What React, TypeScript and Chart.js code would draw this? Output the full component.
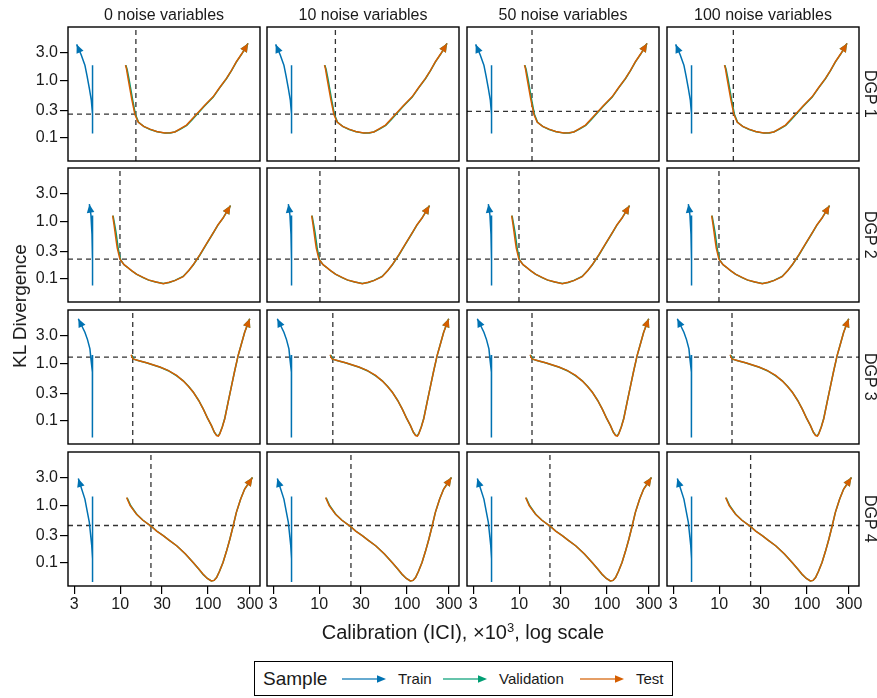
import React, { useEffect, useRef } from "react";
import { Chart, registerables } from "chart.js";

Chart.register(...registerables);

// ---------------- data ----------------
const COLUMN_LABELS = ["0 noise variables", "10 noise variables", "50 noise variables", "100 noise variables"];
const ROW_LABELS = ["DGP 1", "DGP 2", "DGP 3", "DGP 4"];
const SERIES_NAMES = ["Train", "Validation", "Test"];

const X_TICKS = [3, 10, 30, 100, 300];
const X_TICK_LABELS = ["3", "10", "30", "100", "300"];
const Y_TICKS = [3, 1, 0.3, 0.1];
const Y_TICK_LABELS = ["3.0", "1.0", "0.3", "0.1"];
const X_RANGE = [2.55, 390];
const Y_RANGE = [0.04, 8.5];

// reference lines (per row, per column)
const VLINE_DGP1 = [15.1, 15.3, 14.0, 14.5];
const VLINE_DGP2 = [9.95, 10.2, 9.95, 9.95];
const VLINE_DGP3 = [13.9, 14.3, 14.0, 14.0];
const VLINE_DGP4 = [22.4, 23.0, 22.4, 22.8];
const HLINE_DGP1 = [0.26, 0.26, 0.29, 0.27];
const HLINE_DGP2 = [0.222, 0.222, 0.222, 0.222];
const HLINE_DGP3 = [1.29, 1.29, 1.29, 1.29];
const HLINE_DGP4 = [0.45, 0.45, 0.45, 0.45];

// [calibration x1000, KL divergence]
const TRAIN_DGP1 = [[4.85, 1.85], [4.85, 0.12], [4.85, 0.26], [4.7, 0.45], [4.46, 0.73], [4.2, 1.2], [3.97, 1.85], [3.6, 2.8], [3.2, 4.24]];
const VALID_DGP1 = [[11.6, 1.85], [12.0, 1.55], [12.6, 1.07], [13.2, 0.71], [13.8, 0.48], [14.9, 0.26], [16.2, 0.188], [18.7, 0.158], [22, 0.141], [26.4, 0.129], [32.3, 0.122], [37.4, 0.123], [42.4, 0.129], [48.6, 0.143], [57.2, 0.166], [65.6, 0.206], [74.6, 0.256], [90.6, 0.356], [114.6, 0.515], [135.5, 0.745], [162.5, 1.085], [185.5, 1.495], [210.5, 2.11], [245.5, 3.0], [285, 4.4]];
const TEST_DGP1 = [[11.5, 1.85], [11.8, 1.6], [12.3, 1.09], [12.9, 0.72], [13.5, 0.49], [14.7, 0.26], [16.0, 0.19], [18.5, 0.16], [21.8, 0.143], [26, 0.13], [32.3, 0.123], [37, 0.124], [41.9, 0.128], [48, 0.145], [56.9, 0.168], [65, 0.21], [73.9, 0.26], [90, 0.36], [114, 0.52], [135, 0.75], [162, 1.09], [185, 1.5], [210, 2.12], [245, 3.0], [285, 4.4]];

const TRAIN_DGP2 = [[4.85, 1.27], [4.85, 0.077], [4.85, 0.2], [4.78, 0.6], [4.65, 1.3], [4.46, 2.0]];
const VALID_DGP2 = [[8.3, 1.26], [8.65, 0.89], [8.95, 0.66], [9.25, 0.46], [9.5, 0.34], [10.1, 0.218], [11.1, 0.177], [12.0, 0.162], [13.7, 0.137], [15.5, 0.121], [18.2, 0.106], [21.1, 0.096], [25.3, 0.089], [31, 0.084], [36.3, 0.087], [42, 0.095], [52, 0.111], [60, 0.139], [67.8, 0.176], [80.8, 0.262], [95.2, 0.398], [114, 0.625], [130, 0.875], [148, 1.145], [180, 1.89]];
const TEST_DGP2 = [[8.22, 1.27], [8.5, 0.9], [8.73, 0.67], [9.0, 0.47], [9.27, 0.345], [9.95, 0.222], [11.0, 0.18], [11.84, 0.165], [13.5, 0.14], [15.3, 0.122], [18, 0.108], [20.9, 0.097], [25, 0.09], [30.9, 0.083], [36, 0.088], [41.9, 0.094], [52.1, 0.11], [60, 0.14], [67.7, 0.177], [80.6, 0.264], [95, 0.4], [114, 0.63], [130, 0.88], [148, 1.15], [180, 1.89]];

const TRAIN_DGP3 = [[4.85, 1.4], [4.85, 0.052], [4.85, 0.3], [4.8, 0.71], [4.65, 1.2], [4.53, 1.8], [4.25, 2.6], [3.97, 3.5], [3.34, 6.0]];
const VALID_DGP3 = [[13.6, 1.4], [14.3, 1.19], [16.3, 1.12], [20.3, 1.02], [24.3, 0.93], [28.6, 0.86], [35.3, 0.75], [44, 0.61], [52.3, 0.5], [60.3, 0.4], [68, 0.318], [78.3, 0.228], [88.3, 0.162], [98.3, 0.114], [109, 0.084], [118, 0.064], [125, 0.057], [131, 0.056], [136, 0.061], [145, 0.079], [155, 0.112], [170, 0.222], [185, 0.41], [200, 0.72], [220, 1.37], [240, 2.2], [261, 3.5], [298, 6.0]];
const TEST_DGP3 = [[13.3, 1.42], [14, 1.2], [16, 1.13], [20, 1.03], [24, 0.94], [28.3, 0.87], [35, 0.76], [43.9, 0.62], [52, 0.5], [60, 0.4], [67.7, 0.32], [78, 0.23], [88, 0.163], [98, 0.115], [109, 0.084], [118, 0.064], [125, 0.056], [131, 0.055], [136, 0.06], [145, 0.078], [155, 0.11], [170, 0.22], [185, 0.41], [200, 0.72], [220, 1.38], [240, 2.2], [261, 3.5], [298, 6.0]];

const TRAIN_DGP4 = [[4.85, 1.43], [4.85, 0.047], [4.85, 0.118], [4.75, 0.2], [4.46, 0.51], [3.97, 1.29], [3.34, 2.95]];
const VALID_DGP4 = [[12.0, 1.36], [13.2, 0.99], [15.5, 0.7], [18.2, 0.555], [22.6, 0.435], [26.3, 0.357], [31.2, 0.297], [36.3, 0.248], [44.3, 0.198], [55.3, 0.144], [68, 0.101], [78.3, 0.079], [88.3, 0.063], [98.3, 0.054], [109, 0.049], [117, 0.05], [125, 0.056], [135, 0.072], [148, 0.102], [162, 0.16], [177, 0.26], [193, 0.44], [210, 0.76], [235, 1.3], [261, 1.93], [320, 3.07]];
const TEST_DGP4 = [[11.84, 1.38], [13, 1.0], [15.3, 0.71], [18, 0.56], [22.4, 0.44], [26, 0.36], [30.9, 0.3], [36, 0.25], [43.9, 0.2], [55, 0.145], [67.7, 0.102], [78, 0.08], [88, 0.064], [98, 0.054], [109, 0.049], [117, 0.05], [125, 0.056], [135, 0.072], [148, 0.102], [162, 0.16], [177, 0.26], [193, 0.44], [210, 0.76], [235, 1.3], [261, 1.93], [320, 3.07]];

const TRAIN = [TRAIN_DGP1, TRAIN_DGP2, TRAIN_DGP3, TRAIN_DGP4];
const VALID = [VALID_DGP1, VALID_DGP2, VALID_DGP3, VALID_DGP4];
const TEST = [TEST_DGP1, TEST_DGP2, TEST_DGP3, TEST_DGP4];
const VLINES = [VLINE_DGP1, VLINE_DGP2, VLINE_DGP3, VLINE_DGP4];
const HLINES = [HLINE_DGP1, HLINE_DGP2, HLINE_DGP3, HLINE_DGP4];

// ---------------- style / layout ----------------
const FONT = "'Liberation Sans', Arial, Helvetica, sans-serif";
const COLORS = ["#0072B2", "#009E73", "#D55E00"];
const COL_LEFT = [68, 267, 467, 667];
const ROW_TOP = [27, 168, 310, 452];
const PANEL_W = 192;
const PANEL_H = 134;
const AX_Y = 60;
const AX_X = 32;
const PAD = 4;

const toPts = (arr: number[][]) => arr.map(([x, y]) => ({ x, y }));

const arrowPlugin = {
  id: "arrowHeads",
  afterDatasetsDraw(chart: any) {
    const ctx = chart.ctx;
    for (let i = chart.data.datasets.length - 1; i >= 0; i--) {
      const ds: any = chart.data.datasets[i];
      if (!ds.arrow) continue;
      const pts = chart.getDatasetMeta(i).data;
      if (pts.length < 2) continue;
      const a = pts[pts.length - 2];
      const b = pts[pts.length - 1];
      const ang = Math.atan2(b.y - a.y, b.x - a.x);
      const L = 8.5;
      const W = 3.8;
      const bx = b.x - L * Math.cos(ang);
      const by = b.y - L * Math.sin(ang);
      ctx.save();
      ctx.fillStyle = ds.borderColor;
      ctx.beginPath();
      ctx.moveTo(b.x, b.y);
      ctx.lineTo(bx + W * Math.sin(ang), by - W * Math.cos(ang));
      ctx.lineTo(bx - W * Math.sin(ang), by + W * Math.cos(ang));
      ctx.closePath();
      ctx.fill();
      ctx.restore();
    }
  },
};

const boxPlugin = {
  id: "panelBox",
  afterDraw(chart: any) {
    const { ctx, chartArea: a } = chart;
    ctx.save();
    ctx.strokeStyle = "#000";
    ctx.lineWidth = 1.4;
    ctx.strokeRect(a.left, a.top, a.right - a.left, a.bottom - a.top);
    ctx.restore();
  },
};

function Panel({ r, c }: { r: number; c: number }) {
  const ref = useRef<HTMLCanvasElement>(null);
  const showY = c === 0;
  const showX = r === 3;
  const left = COL_LEFT[c] - (showY ? AX_Y : PAD);
  const top = ROW_TOP[r] - PAD;
  const width = PANEL_W + (showY ? AX_Y : PAD) + PAD;
  const height = PANEL_H + PAD + (showX ? AX_X : PAD);

  useEffect(() => {
    const v = VLINES[r][c];
    const h = HLINES[r][c];
    const lineDs = (data: number[][], color: string, arrow: boolean) => ({
      data: toPts(data),
      borderColor: color,
      borderWidth: 1.5,
      pointRadius: 0,
      tension: 0,
      fill: false,
      arrow,
    });
    const dashDs = (data: number[][]) => ({
      data: toPts(data),
      borderColor: "#333333",
      borderWidth: 1.3,
      borderDash: [5, 4],
      pointRadius: 0,
      tension: 0,
      fill: false,
    });
    const chart = new Chart(ref.current as HTMLCanvasElement, {
      type: "line",
      data: {
        datasets: [
          lineDs(TEST[r], COLORS[2], true),
          lineDs(VALID[r], COLORS[1], true),
          lineDs(TRAIN[r], COLORS[0], true),
          dashDs([[v, Y_RANGE[0]], [v, Y_RANGE[1]]]),
          dashDs([[X_RANGE[0], h], [X_RANGE[1], h]]),
        ] as any,
      },
      options: {
        animation: false,
        responsive: false,
        events: [],
        layout: { padding: { left: showY ? 0 : PAD, right: PAD, top: PAD, bottom: showX ? 0 : PAD } },
        plugins: { legend: { display: false }, tooltip: { enabled: false } },
        scales: {
          x: {
            type: "logarithmic",
            min: X_RANGE[0],
            max: X_RANGE[1],
            display: showX,
            border: { display: false },
            grid: { drawOnChartArea: false, drawTicks: true, tickLength: 8, color: "#000", lineWidth: 1.2 },
            ticks: {
              autoSkip: false,
              maxRotation: 0,
              padding: 1,
              color: "#1a1a1a",
              font: { family: FONT, size: 16 },
              callback: (val: any) => X_TICK_LABELS[X_TICKS.indexOf(Number(val))] ?? "",
            },
            afterBuildTicks: (s: any) => {
              s.ticks = X_TICKS.map((value) => ({ value }));
            },
            afterFit: (s: any) => {
              s.height = showX ? AX_X : 0;
              s.paddingLeft = 0;
              s.paddingRight = 0;
              s.paddingTop = 0;
              s.paddingBottom = 0;
            },
          },
          y: {
            type: "logarithmic",
            min: Y_RANGE[0],
            max: Y_RANGE[1],
            display: showY,
            border: { display: false },
            grid: { drawOnChartArea: false, drawTicks: true, tickLength: 8, color: "#000", lineWidth: 1.2 },
            ticks: {
              autoSkip: false,
              padding: 2,
              color: "#1a1a1a",
              font: { family: FONT, size: 16 },
              callback: (val: any) => Y_TICK_LABELS[Y_TICKS.indexOf(Number(val))] ?? "",
            },
            afterBuildTicks: (s: any) => {
              s.ticks = Y_TICKS.map((value) => ({ value }));
            },
            afterFit: (s: any) => {
              s.width = showY ? AX_Y : 0;
              s.paddingLeft = 0;
              s.paddingRight = 0;
              s.paddingTop = 0;
              s.paddingBottom = 0;
            },
          },
        },
      } as any,
      plugins: [arrowPlugin, boxPlugin],
    });
    return () => chart.destroy();
  }, [r, c]);

  return (
    <canvas
      ref={ref}
      width={width}
      height={height}
      style={{ position: "absolute", left, top, width, height }}
    />
  );
}

function LegendArrow({ color }: { color: string }) {
  return (
    <svg width={44} height={12} style={{ display: "block" }}>
      <line x1={0} y1={6} x2={36} y2={6} stroke={color} strokeWidth={1.6} strokeOpacity={0.8} />
      <polygon points="44,6 35,2.3 35,9.7" fill={color} />
    </svg>
  );
}

export default function App() {
  const cells: JSX.Element[] = [];
  for (let r = 0; r < 4; r++) for (let c = 0; c < 4; c++) cells.push(<Panel key={`${r}-${c}`} r={r} c={c} />);

  const legendItem = (x: number, node: React.ReactNode, size = 15) => (
    <div
      style={{
        position: "absolute",
        left: x,
        top: 661,
        height: 35,
        display: "flex",
        alignItems: "center",
        fontSize: size,
        whiteSpace: "nowrap",
      }}
    >
      {node}
    </div>
  );

  return (
    <div
      style={{
        position: "absolute",
        left: 0,
        top: 0,
        width: 877,
        height: 698,
        background: "#fff",
        fontFamily: FONT,
        color: "#1a1a1a",
        overflow: "hidden",
      }}
    >
      {cells}
      {COLUMN_LABELS.map((t, c) => (
        <div
          key={t}
          style={{
            position: "absolute",
            left: COL_LEFT[c],
            width: PANEL_W,
            top: 5,
            height: 20,
            lineHeight: "20px",
            textAlign: "center",
            fontSize: 16,
          }}
        >
          {t}
        </div>
      ))}
      {ROW_LABELS.map((t, r) => (
        <div
          key={t}
          style={{
            position: "absolute",
            left: 860,
            width: 20,
            top: ROW_TOP[r],
            height: PANEL_H,
            display: "flex",
            alignItems: "center",
            justifyContent: "center",
            writingMode: "vertical-rl",
            fontSize: 16,
          }}
        >
          {t}
        </div>
      ))}
      <div
        style={{
          position: "absolute",
          left: 20,
          top: 306,
          transform: "translate(-50%, -50%) rotate(-90deg)",
          fontSize: 19,
          whiteSpace: "nowrap",
        }}
      >
        KL Divergence
      </div>
      <div
        style={{
          position: "absolute",
          left: 463,
          top: 632,
          transform: "translate(-50%, -50%)",
          fontSize: 20,
          whiteSpace: "nowrap",
        }}
      >
        Calibration (ICI), {"\u00D7"}10<sup style={{ fontSize: 13, verticalAlign: "7px", lineHeight: 0 }}>3</sup>, log scale
      </div>
      <div
        style={{
          position: "absolute",
          left: 254,
          top: 661,
          width: 419,
          height: 35,
          border: "1.3px solid #000",
          boxSizing: "border-box",
        }}
      />
      {legendItem(263, "Sample", 19)}
      {legendItem(342, <LegendArrow color={COLORS[0]} />)}
      {legendItem(398, SERIES_NAMES[0])}
      {legendItem(443, <LegendArrow color={COLORS[1]} />)}
      {legendItem(499, SERIES_NAMES[1])}
      {legendItem(580, <LegendArrow color={COLORS[2]} />)}
      {legendItem(636, SERIES_NAMES[2])}
    </div>
  );
}
